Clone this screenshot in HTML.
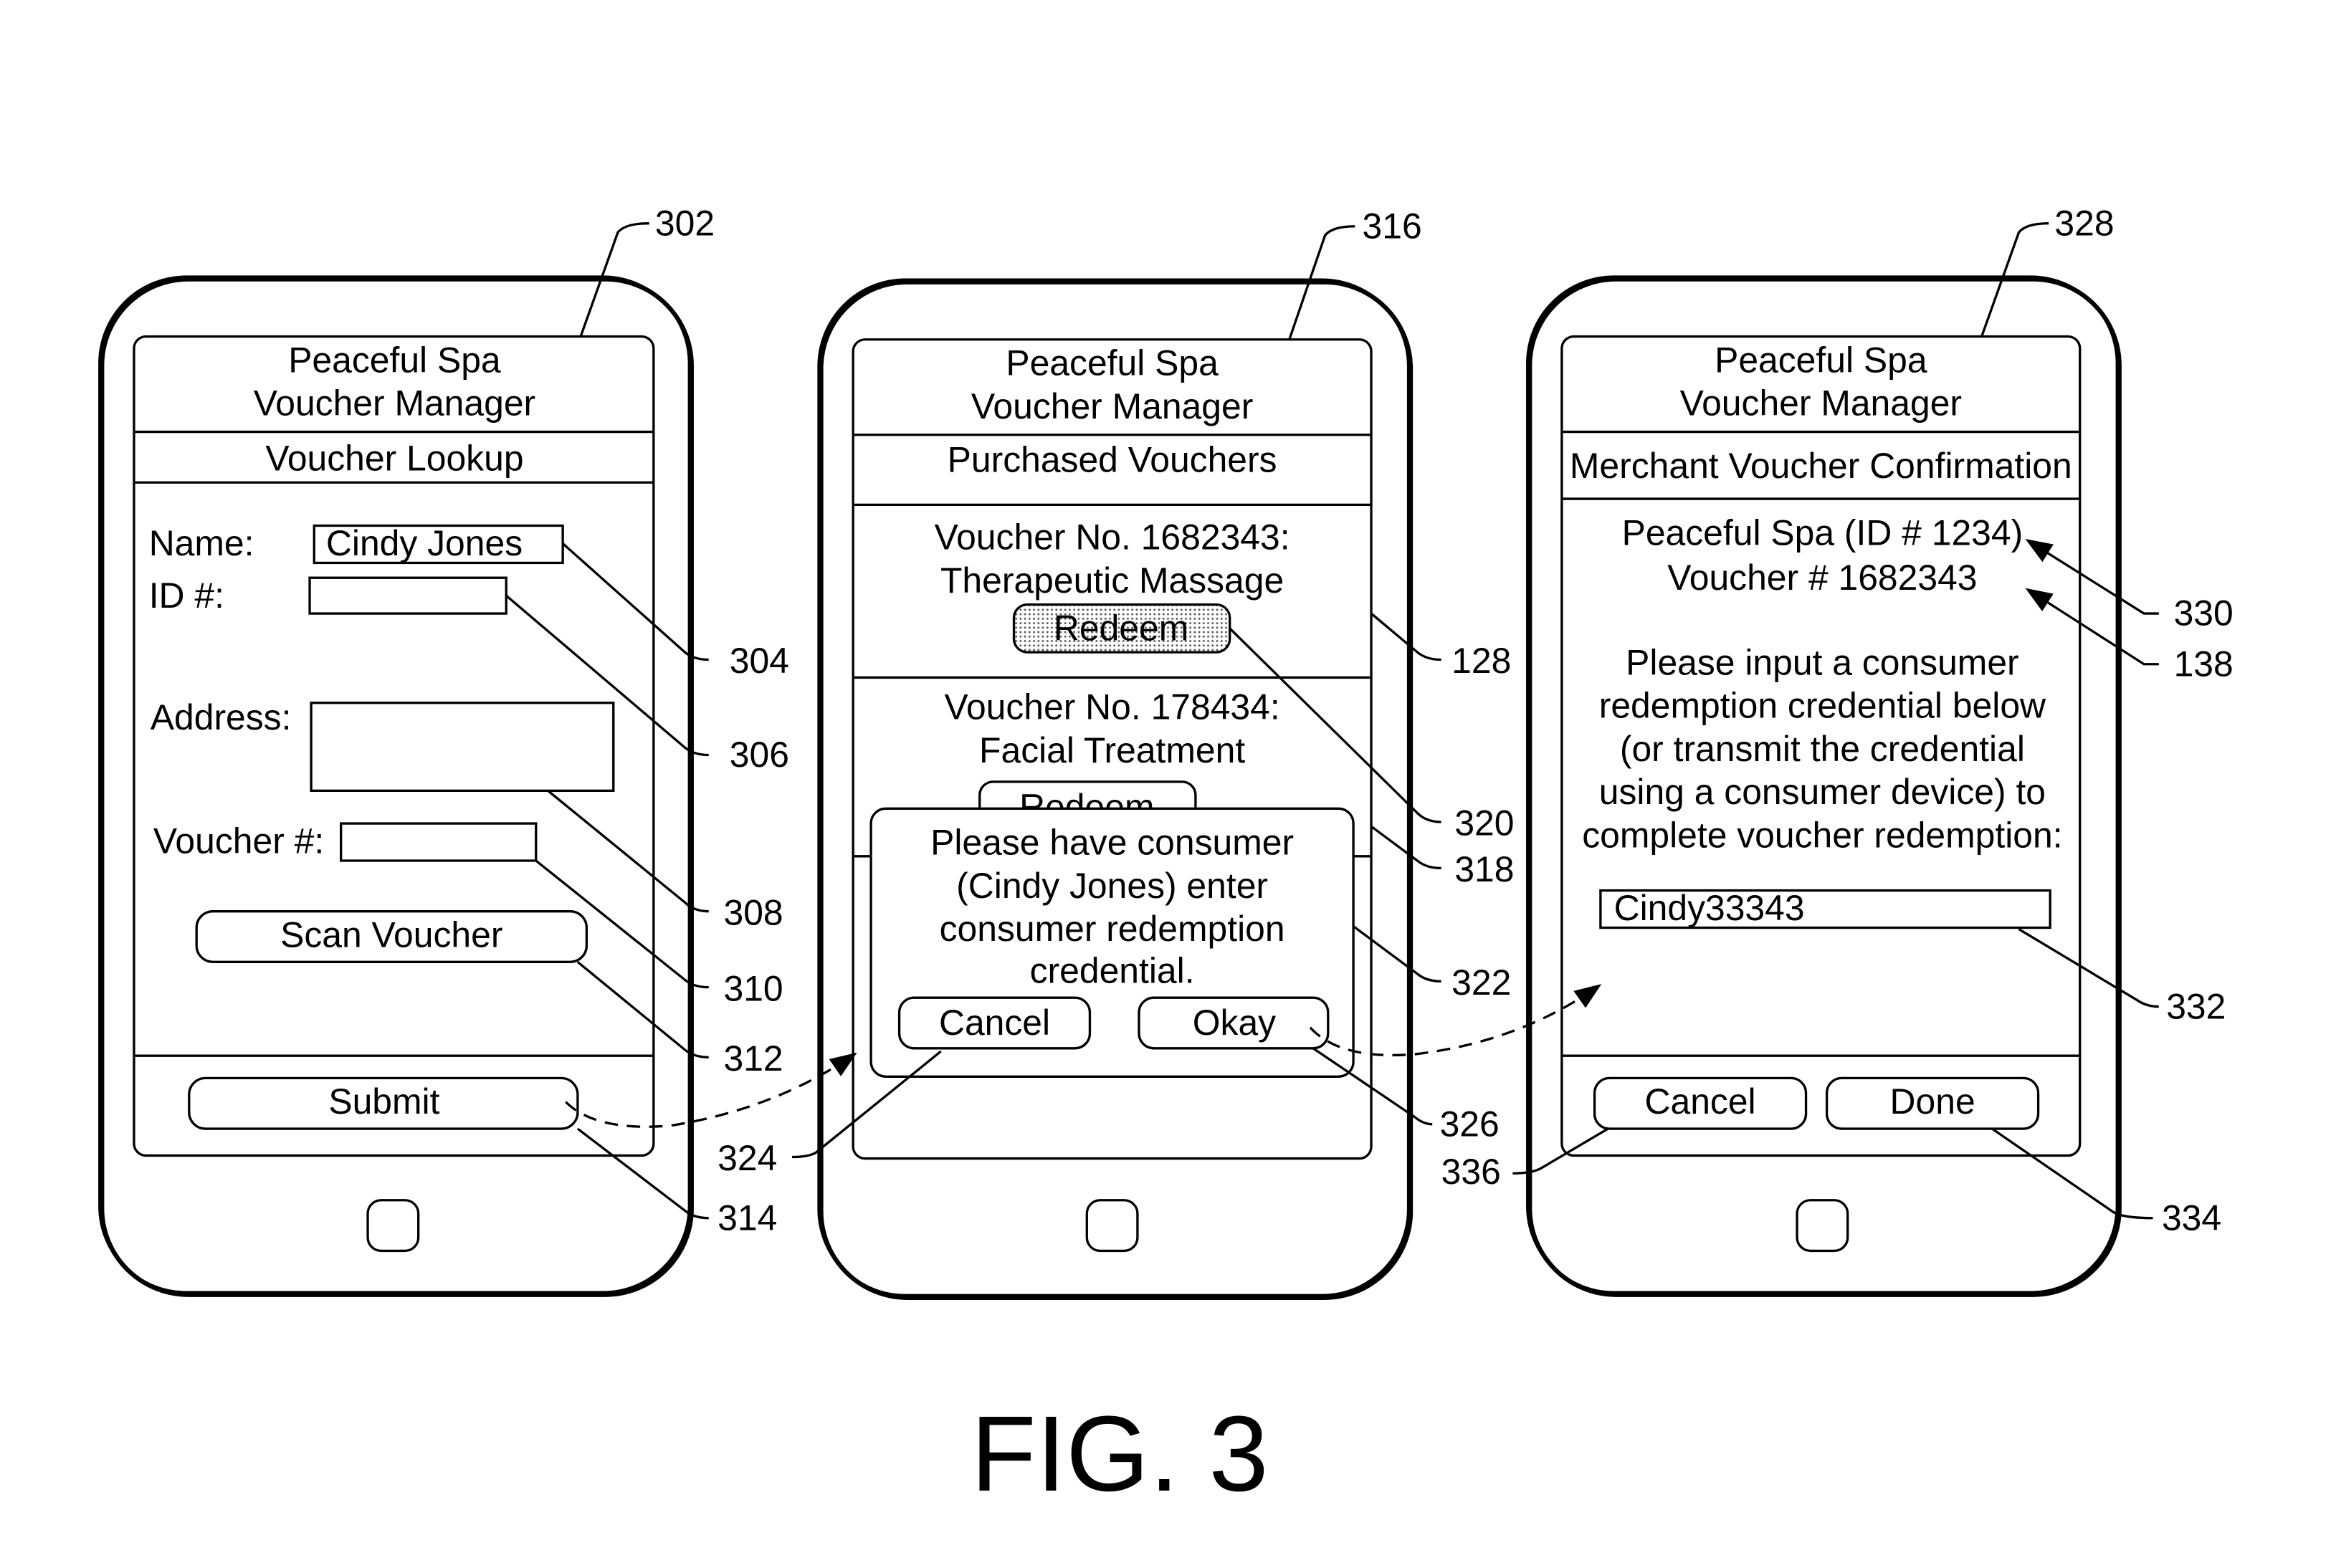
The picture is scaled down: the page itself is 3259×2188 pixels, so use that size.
<!DOCTYPE html>
<html><head><meta charset="utf-8"><style>
html,body{margin:0;padding:0;background:#fff}
svg{display:block}
text{font-family:"Liberation Sans",Arial,sans-serif;fill:#000}
</style></head><body>
<svg width="3259" height="2188" viewBox="0 0 1569 1053" preserveAspectRatio="none" xmlns="http://www.w3.org/2000/svg">
<defs>
<pattern id="dots" width="3" height="3" patternUnits="userSpaceOnUse"><rect width="3" height="3" fill="#fff"/><circle cx="1.5" cy="1.5" r="0.7" fill="#555"/></pattern>
<marker id="ah2" markerWidth="18" markerHeight="14" refX="16" refY="7" orient="auto" markerUnits="userSpaceOnUse"><path d="M0,0 L18,7 L0,14 Z" fill="#000"/></marker>
</defs>
<g fill="none" stroke="#000" stroke-width="1.6">
<rect x="68.5" y="187.5" width="396" height="682" rx="58" stroke-width="3"/>
<rect x="67" y="186" width="396" height="682" rx="58" stroke-width="2"/>
<rect x="90" y="226" width="349" height="550" rx="8"/>
<line x1="90" y1="290" x2="439" y2="290"/><line x1="90" y1="324" x2="439" y2="324"/><line x1="90" y1="709" x2="439" y2="709"/>
<rect x="247" y="806" width="34" height="34" rx="9"/>
<rect x="211" y="353" width="167" height="25"/>
<rect x="208" y="388" width="132" height="24"/>
<rect x="209" y="472" width="203" height="59"/>
<rect x="229" y="553" width="131" height="25"/>
<rect x="132" y="612" width="262" height="34" rx="11"/>
<rect x="127" y="724" width="261" height="34" rx="11"/>
<path d="M390,226 L415,156 Q420,150 436,150"/>
<path d="M378,365 L460,438 Q466,443 476,443"/>
<path d="M340,400 L460,502 Q466,507 476,507"/>
<path d="M368,531 L460,606 Q466,612 476,612"/>
<path d="M360,578 L460,658 Q466,663 476,663"/>
<path d="M388,646 L460,705 Q466,710 476,710"/>
<path d="M388,758 L460,813 Q466,818 476,818"/>
<rect x="551.5" y="189.5" width="396" height="682" rx="58" stroke-width="3"/>
<rect x="550" y="188" width="396" height="682" rx="58" stroke-width="2"/>
<rect x="573" y="228" width="348" height="550" rx="8"/>
<line x1="573" y1="292" x2="921" y2="292"/><line x1="573" y1="339" x2="921" y2="339"/><line x1="573" y1="455" x2="921" y2="455"/><line x1="573" y1="575" x2="921" y2="575"/>
<rect x="730" y="806" width="34" height="34" rx="9"/>
<rect x="681" y="406" width="145" height="32" rx="9" fill="url(#dots)"/>
<rect x="658" y="525" width="145" height="40" rx="9"/>
<path d="M866,228 L890,158 Q895,152 910,152"/>
<path d="M921,412 L952,438 Q958,443 968,443"/>
<path d="M826,422 L952,546 Q958,552 968,552"/>
<path d="M921,555 L952,578 Q958,583 968,583"/>
<path d="M909,622 L952,654 Q958,659 968,659"/>
<rect x="1027.5" y="187.5" width="396" height="682" rx="58" stroke-width="3"/>
<rect x="1026" y="186" width="396" height="682" rx="58" stroke-width="2"/>
<rect x="1049" y="226" width="348" height="550" rx="8"/>
<line x1="1049" y1="290" x2="1397" y2="290"/><line x1="1049" y1="335" x2="1397" y2="335"/><line x1="1049" y1="709" x2="1397" y2="709"/>
<rect x="1207" y="806" width="34" height="34" rx="9"/>
<rect x="1075" y="598" width="302" height="25"/>
<rect x="1071" y="724" width="142" height="34" rx="10"/>
<rect x="1227" y="724" width="142" height="34" rx="10"/>
<path d="M1331,226 L1356,156 Q1361,150 1376,150"/>
<path d="M1450,412 L1440,412 L1362,363" marker-end="url(#ah2)"/>
<path d="M1450,446 L1440,446 L1362,396" marker-end="url(#ah2)"/>
<path d="M1356,624 L1436,672 Q1442,676 1450,676"/>
<path d="M1338,758 L1418,813 Q1424,818 1446,818"/>
<path d="M1080,758 L1036,784 Q1030,788 1016,788"/>
<path d="M380,740 Q400,760 450,756 Q520,745 574,708" stroke-dasharray="9,6" marker-end="url(#ah2)"/>
</g>
<g font-size="24" text-anchor="middle">
<text x="265" y="250">Peaceful Spa</text><text x="265" y="279">Voucher Manager</text><text x="265" y="316">Voucher Lookup</text>
<text x="263" y="636">Scan Voucher</text><text x="258" y="748">Submit</text>
<text x="747" y="252">Peaceful Spa</text><text x="747" y="281">Voucher Manager</text><text x="747" y="317">Purchased Vouchers</text>
<text x="747" y="369">Voucher No. 1682343:</text><text x="747" y="398">Therapeutic Massage</text>
<text x="753" y="430">Redeem</text>
<text x="747" y="483">Voucher No. 178434:</text><text x="747" y="512">Facial Treatment</text>
<text x="730" y="550">Redeem</text>
</g>
<g fill="none" stroke="#000" stroke-width="1.6">
<rect x="585" y="543" width="324" height="180" rx="10" fill="#fff"/>
<rect x="604" y="670" width="128" height="34" rx="10"/>
<rect x="765" y="670" width="127" height="34" rx="10"/>
<path d="M882,704 L950,750 Q956,755 962,755"/>
<path d="M632,706 L548,774 Q543,777 532,777"/>
<path d="M880,690 Q900,712 950,708 Q1020,700 1074,662" stroke-dasharray="9,6" marker-end="url(#ah2)"/>
</g>
<g font-size="24" text-anchor="middle">
<text x="747" y="574">Please have consumer</text><text x="747" y="603">(Cindy Jones) enter</text><text x="747" y="632">consumer redemption</text><text x="747" y="660">credential.</text>
<text x="668" y="695">Cancel</text><text x="829" y="695">Okay</text>
<text x="1223" y="250">Peaceful Spa</text><text x="1223" y="279">Voucher Manager</text><text x="1223" y="321">Merchant Voucher Confirmation</text>
<text x="1224" y="366">Peaceful Spa (ID # 1234)</text><text x="1224" y="396">Voucher # 1682343</text>
<text x="1224" y="453">Please input a consumer</text><text x="1224" y="482">redemption credential below</text><text x="1224" y="511">(or transmit the credential</text><text x="1224" y="540">using a consumer device) to</text><text x="1224" y="569">complete voucher redemption:</text>
<text x="1142" y="748">Cancel</text><text x="1298" y="748">Done</text>
</g>
<g font-size="24">
<text x="100" y="373">Name:</text><text x="219" y="373">Cindy Jones</text>
<text x="100" y="408">ID #:</text><text x="101" y="490">Address:</text><text x="103" y="573">Voucher #:</text>
<text x="1084" y="618">Cindy33343</text>
<text x="440" y="158">302</text><text x="490" y="452">304</text><text x="490" y="515">306</text><text x="486" y="621">308</text><text x="486" y="672">310</text><text x="486" y="719">312</text><text x="482" y="826">314</text>
<text x="915" y="160">316</text><text x="975" y="452">128</text><text x="977" y="561">320</text><text x="977" y="592">318</text><text x="975" y="668">322</text><text x="967" y="763">326</text><text x="482" y="786">324</text>
<text x="1380" y="158">328</text><text x="1460" y="420">330</text><text x="1460" y="454">138</text><text x="1455" y="684">332</text><text x="1452" y="826">334</text><text x="968" y="795">336</text>
</g>
<text x="752" y="1001" font-size="72" text-anchor="middle">FIG. 3</text>
</svg>
</body></html>
